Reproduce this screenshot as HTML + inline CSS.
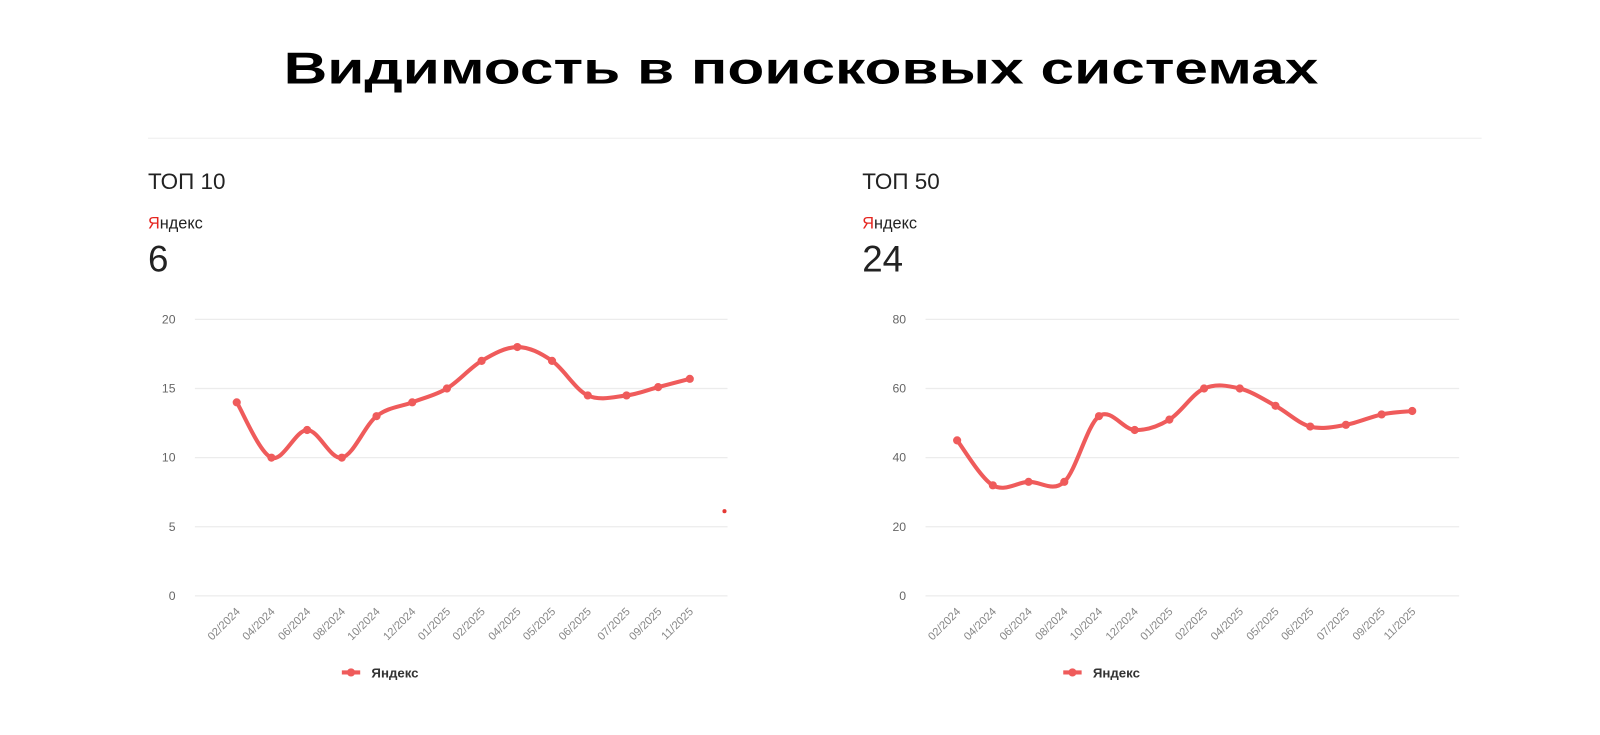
<!DOCTYPE html>
<html><head><meta charset="utf-8"><style>
body{margin:0;width:1600px;height:730px;background:#fff;overflow:hidden;font-family:"Liberation Sans","DejaVu Sans",sans-serif;}
</style></head><body>
<svg id="s" width="1600" height="730" xmlns="http://www.w3.org/2000/svg" font-family="Liberation Sans, DejaVu Sans, sans-serif">
<g transform="scale(1.0204)">
<text x="785" y="82" text-anchor="middle" font-size="44" font-weight="bold" fill="#000" textLength="1014" lengthAdjust="spacingAndGlyphs">Видимость в поисковых системах</text>
<line x1="145" y1="135.5" x2="1452" y2="135.5" stroke="#eee" stroke-width="1"/>
<text x="145" y="185" font-size="22" fill="#222">ТОП 10</text>
<text x="145" y="224" font-size="16" fill="#222"><tspan fill="#e52620">Я</tspan>ндекс</text>
<text x="145" y="266" font-size="36" fill="#222">6</text>
<text x="845" y="185" font-size="22" fill="#222">ТОП 50</text>
<text x="845" y="224" font-size="16" fill="#222"><tspan fill="#e52620">Я</tspan>ндекс</text>
<text x="845" y="266" font-size="36" fill="#222">24</text>
<circle cx="710" cy="501" r="2" fill="#e53935"/>
<g id="g"></g>
</g>
</svg>
<script>
var g=document.getElementById('g'),h='';
var labels=['02/2024','04/2024','06/2024','08/2024','10/2024','12/2024','01/2025','02/2025','04/2025','05/2025','06/2025','07/2025','09/2025','11/2025'];
function chart(gx0,gx1,labx,xs,vals,max,ticks,legx){
 var y0=584,y1=313,sc=(y0-y1)/max;
 ticks.forEach(function(t){var y=y0-t*sc;h+='<line x1="'+gx0+'" y1="'+y+'" x2="'+gx1+'" y2="'+y+'" stroke="#ececec" stroke-width="1.2"/>';
  h+='<text x="'+labx+'" y="'+(y+4)+'" text-anchor="end" font-size="12" fill="#666">'+t+'</text>';});
 var p=xs.map(function(x,i){return [x,y0-vals[i]*sc];});
 var d='M'+p[0][0]+','+p[0][1];
 for(var i=0;i<p.length-1;i++){var a=p[i-1]||p[i],b=p[i],c=p[i+1],e=p[i+2]||c,k=6;
  d+=' C'+(b[0]+(c[0]-a[0])/k)+','+(b[1]+(c[1]-a[1])/k)+' '+(c[0]-(e[0]-b[0])/k)+','+(c[1]-(e[1]-b[1])/k)+' '+c[0]+','+c[1];}
 h+='<path d="'+d+'" fill="none" stroke="#ef5b5b" stroke-width="4" stroke-linejoin="round"/>';
 p.forEach(function(q){h+='<circle cx="'+q[0]+'" cy="'+q[1]+'" r="4" fill="#ef5b5b"/>';});
 xs.forEach(function(x,i){h+='<text transform="translate('+(x+4)+',600) rotate(-45)" text-anchor="end" font-size="11" fill="#888">'+labels[i]+'</text>';});
 h+='<line x1="'+legx+'" y1="659" x2="'+(legx+18)+'" y2="659" stroke="#ef5b5b" stroke-width="4"/><circle cx="'+(legx+9)+'" cy="659" r="4" fill="#ef5b5b"/>';
 h+='<text x="'+(legx+29)+'" y="664" font-size="13" font-weight="bold" fill="#333">Яндекс</text>';
}
chart(191,713,172,[232,266,301,335,369,404,438,472,507,541,576,614,645,676],[14,10,12,10,13,14,15,17,18,17,14.5,14.5,15.1,15.7],20,[0,5,10,15,20],335);
chart(907,1430,888,[938,973,1008,1043,1077,1112,1146,1180,1215,1250,1284,1319,1354,1384],[45,32,33,33,52,48,51,60,60,55,49,49.5,52.5,53.5],80,[0,20,40,60,80],1042);
g.innerHTML=h;
</script>
</body></html>
